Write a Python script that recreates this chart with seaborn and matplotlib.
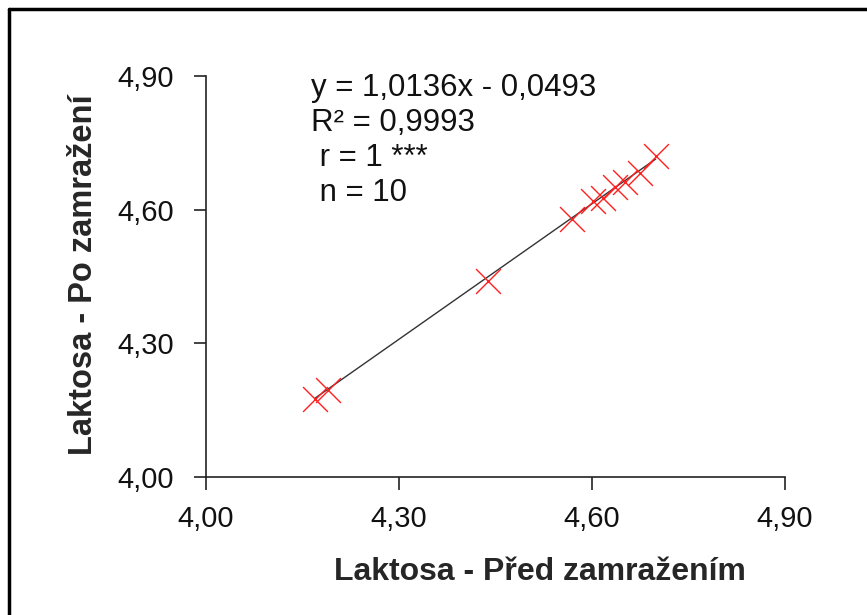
import numpy as np
import seaborn as sns
import matplotlib.pyplot as plt
from matplotlib.lines import Line2D
from matplotlib.ticker import FuncFormatter

# Laktosa values
pred = [4.169, 4.190, 4.438, 4.569, 4.602, 4.617, 4.636, 4.651, 4.675, 4.699]
po = [4.176, 4.196, 4.440, 4.580, 4.620, 4.627, 4.650, 4.661, 4.683, 4.720]
ticks = [4.00, 4.30, 4.60, 4.90]
slope, intercept = 1.0136, -0.0493
stats_text = ['y = 1,0136x - 0,0493', 'R² = 0,9993', ' r = 1 ***', ' n = 10']

sns.set_theme(style='white')
plt.rcParams['font.family'] = ['Liberation Sans', 'DejaVu Sans']

fig = plt.figure(figsize=(8.67, 6.15), dpi=100)
ax = fig.add_axes([206 / 867, 1 - 477 / 615, 579 / 867, 401 / 615])

# trendline over the data range
xl = np.array([min(pred), max(pred)])
sns.lineplot(x=xl, y=slope * xl + intercept, ax=ax, color='#333333', linewidth=1.0)
sns.scatterplot(x=pred, y=po, ax=ax, marker='x', color='#ff2020', s=320, linewidth=1.0, zorder=3)

ax.set_xlim(4.0, 4.9)
ax.set_ylim(4.0, 4.9)
ax.set_xticks(ticks)
ax.set_yticks(ticks)
fmt = FuncFormatter(lambda v, p: f'{v:.2f}'.replace('.', ','))
ax.xaxis.set_major_formatter(fmt)
ax.yaxis.set_major_formatter(fmt)
ax.tick_params(axis='both', direction='out', length=9, width=1.2, color='#222222',
               labelsize=21, labelcolor='#111111', bottom=True, left=True)
ax.tick_params(axis='x', pad=11)
ax.tick_params(axis='y', pad=14)
for side in ['top', 'right']:
    ax.spines[side].set_visible(False)
for side in ['left', 'bottom']:
    ax.spines[side].set_color('#222222')
    ax.spines[side].set_linewidth(1.2)

ax.set_xlabel('Laktosa - Před zamražením', fontsize=23, fontweight='bold', ha='center', va='center')
ax.set_ylabel('Laktosa - Po zamražení', fontsize=23.5, fontweight='bold', ha='center', va='center')
ax.xaxis.set_label_coords((540 - 206) / 579, (477 - 572) / 401)
ax.yaxis.set_label_coords((84 - 206) / 579, (477 - 275) / 401)

for i, t in enumerate(stats_text):
    fig.text(311 / 867, 1 - (88 + i * 35) / 615, t, fontsize=22.5, color='#111111', va='center', ha='left')

# outer frame (left and top edges only visible)
fig.add_artist(Line2D([9 / 867, 9 / 867], [0, 1 - 9 / 615], color='black', linewidth=2.5))
fig.add_artist(Line2D([9 / 867, 1], [1 - 9 / 615, 1 - 9 / 615], color='black', linewidth=2.5))

fig.savefig('out.png', dpi=100)
